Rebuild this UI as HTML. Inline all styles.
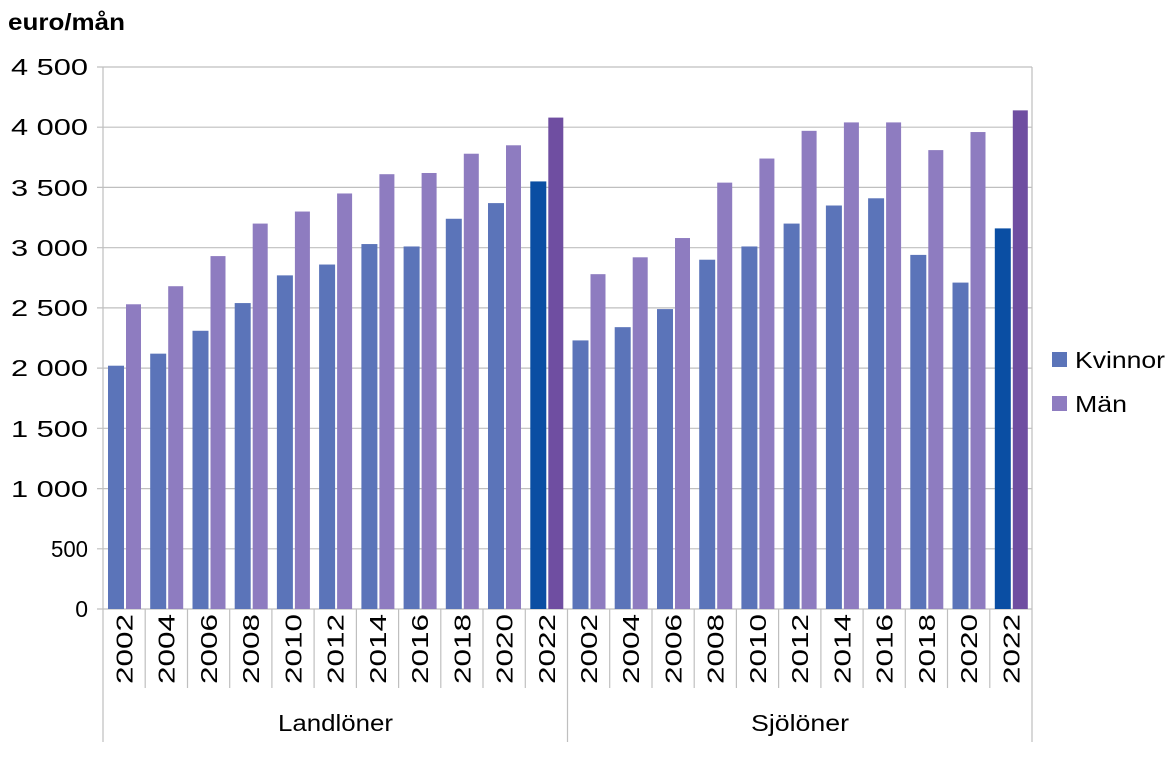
<!DOCTYPE html>
<html><head><meta charset="utf-8"><style>
body{margin:0;background:#fff;}
svg text{font-family:"Liberation Sans",sans-serif;fill:#000;}
</style></head><body>
<svg width="1172" height="766" viewBox="0 0 1172 766" xmlns="http://www.w3.org/2000/svg">
<text x="8" y="30" font-size="23" font-weight="bold" textLength="117" lengthAdjust="spacingAndGlyphs">euro/mån</text>
<g stroke="#bfbfbf" stroke-width="1.2">
<line x1="97" y1="67" x2="1032" y2="67"/><line x1="97" y1="127.2" x2="1032" y2="127.2"/>
<line x1="97" y1="187.4" x2="1032" y2="187.4"/><line x1="97" y1="247.7" x2="1032" y2="247.7"/>
<line x1="97" y1="307.9" x2="1032" y2="307.9"/><line x1="97" y1="368.1" x2="1032" y2="368.1"/>
<line x1="97" y1="428.3" x2="1032" y2="428.3"/><line x1="97" y1="488.6" x2="1032" y2="488.6"/>
<line x1="97" y1="548.8" x2="1032" y2="548.8"/><line x1="97" y1="609" x2="1032" y2="609"/>
<line x1="103" y1="67" x2="103" y2="742"/><line x1="1032" y1="67" x2="1032" y2="742"/>
<line x1="567.5" y1="609" x2="567.5" y2="742"/>
<line x1="145.2" y1="609" x2="145.2" y2="688"/><line x1="187.5" y1="609" x2="187.5" y2="688"/>
<line x1="229.7" y1="609" x2="229.7" y2="688"/><line x1="271.9" y1="609" x2="271.9" y2="688"/>
<line x1="314.1" y1="609" x2="314.1" y2="688"/><line x1="356.4" y1="609" x2="356.4" y2="688"/>
<line x1="398.6" y1="609" x2="398.6" y2="688"/><line x1="440.8" y1="609" x2="440.8" y2="688"/>
<line x1="483" y1="609" x2="483" y2="688"/><line x1="525.3" y1="609" x2="525.3" y2="688"/>
<line x1="609.7" y1="609" x2="609.7" y2="688"/><line x1="652" y1="609" x2="652" y2="688"/>
<line x1="694.2" y1="609" x2="694.2" y2="688"/><line x1="736.4" y1="609" x2="736.4" y2="688"/>
<line x1="778.6" y1="609" x2="778.6" y2="688"/><line x1="820.9" y1="609" x2="820.9" y2="688"/>
<line x1="863.1" y1="609" x2="863.1" y2="688"/><line x1="905.3" y1="609" x2="905.3" y2="688"/>
<line x1="947.5" y1="609" x2="947.5" y2="688"/><line x1="989.8" y1="609" x2="989.8" y2="688"/>
</g>
<g font-size="23" text-anchor="end">
<text x="88" y="75" textLength="77" lengthAdjust="spacingAndGlyphs">4 500</text>
<text x="88" y="135" textLength="77" lengthAdjust="spacingAndGlyphs">4 000</text>
<text x="88" y="196" textLength="77" lengthAdjust="spacingAndGlyphs">3 500</text>
<text x="88" y="256" textLength="77" lengthAdjust="spacingAndGlyphs">3 000</text>
<text x="88" y="316" textLength="77" lengthAdjust="spacingAndGlyphs">2 500</text>
<text x="88" y="376" textLength="77" lengthAdjust="spacingAndGlyphs">2 000</text>
<text x="88" y="437" textLength="77" lengthAdjust="spacingAndGlyphs">1 500</text>
<text x="88" y="497" textLength="77" lengthAdjust="spacingAndGlyphs">1 000</text>
<text x="88" y="557" textLength="37" lengthAdjust="spacingAndGlyphs">500</text>
<text x="88" y="617">0</text>
</g>
<g transform="translate(0,609) scale(1,-0.120444)">
<g fill="#5b74b9">
<rect x="108" y="0" width="16" height="2020"/><rect x="150.2" y="0" width="16" height="2120"/>
<rect x="192.5" y="0" width="16" height="2310"/><rect x="234.7" y="0" width="16" height="2540"/>
<rect x="276.9" y="0" width="16" height="2770"/><rect x="319.1" y="0" width="16" height="2860"/>
<rect x="361.4" y="0" width="16" height="3030"/><rect x="403.6" y="0" width="16" height="3010"/>
<rect x="445.8" y="0" width="16" height="3240"/><rect x="488" y="0" width="16" height="3370"/>
<rect x="572.5" y="0" width="16" height="2230"/><rect x="614.7" y="0" width="16" height="2340"/>
<rect x="657" y="0" width="16" height="2490"/><rect x="699.2" y="0" width="16" height="2900"/>
<rect x="741.4" y="0" width="16" height="3010"/><rect x="783.6" y="0" width="16" height="3200"/>
<rect x="825.9" y="0" width="16" height="3350"/><rect x="868.1" y="0" width="16" height="3410"/>
<rect x="910.3" y="0" width="16" height="2940"/><rect x="952.5" y="0" width="16" height="2710"/>
</g>
<g fill="#8e7cc0">
<rect x="126" y="0" width="15" height="2530"/><rect x="168.2" y="0" width="15" height="2680"/>
<rect x="210.5" y="0" width="15" height="2930"/><rect x="252.7" y="0" width="15" height="3200"/>
<rect x="294.9" y="0" width="15" height="3300"/><rect x="337.1" y="0" width="15" height="3450"/>
<rect x="379.4" y="0" width="15" height="3610"/><rect x="421.6" y="0" width="15" height="3620"/>
<rect x="463.8" y="0" width="15" height="3780"/><rect x="506" y="0" width="15" height="3850"/>
<rect x="590.5" y="0" width="15" height="2780"/><rect x="632.7" y="0" width="15" height="2920"/>
<rect x="675" y="0" width="15" height="3080"/><rect x="717.2" y="0" width="15" height="3540"/>
<rect x="759.4" y="0" width="15" height="3740"/><rect x="801.6" y="0" width="15" height="3970"/>
<rect x="843.9" y="0" width="15" height="4040"/><rect x="886.1" y="0" width="15" height="4040"/>
<rect x="928.3" y="0" width="15" height="3810"/><rect x="970.5" y="0" width="15" height="3960"/>
</g>
<rect x="530.3" y="0" width="16" height="3550" fill="#0a4ea3"/>
<rect x="548.3" y="0" width="15" height="4080" fill="#6f4ea1"/>
<rect x="994.8" y="0" width="16" height="3160" fill="#0a4ea3"/>
<rect x="1012.8" y="0" width="15" height="4140" fill="#6f4ea1"/>
</g>
<g font-size="23" text-anchor="middle">
<text transform="translate(132.5,649) rotate(-90)" textLength="70" lengthAdjust="spacingAndGlyphs">2002</text>
<text transform="translate(174.7,649) rotate(-90)" textLength="70" lengthAdjust="spacingAndGlyphs">2004</text>
<text transform="translate(217,649) rotate(-90)" textLength="70" lengthAdjust="spacingAndGlyphs">2006</text>
<text transform="translate(259.2,649) rotate(-90)" textLength="70" lengthAdjust="spacingAndGlyphs">2008</text>
<text transform="translate(301.4,649) rotate(-90)" textLength="70" lengthAdjust="spacingAndGlyphs">2010</text>
<text transform="translate(343.6,649) rotate(-90)" textLength="70" lengthAdjust="spacingAndGlyphs">2012</text>
<text transform="translate(385.9,649) rotate(-90)" textLength="70" lengthAdjust="spacingAndGlyphs">2014</text>
<text transform="translate(428.1,649) rotate(-90)" textLength="70" lengthAdjust="spacingAndGlyphs">2016</text>
<text transform="translate(470.3,649) rotate(-90)" textLength="70" lengthAdjust="spacingAndGlyphs">2018</text>
<text transform="translate(512.5,649) rotate(-90)" textLength="70" lengthAdjust="spacingAndGlyphs">2020</text>
<text transform="translate(554.8,649) rotate(-90)" textLength="70" lengthAdjust="spacingAndGlyphs">2022</text>
<text transform="translate(597,649) rotate(-90)" textLength="70" lengthAdjust="spacingAndGlyphs">2002</text>
<text transform="translate(639.2,649) rotate(-90)" textLength="70" lengthAdjust="spacingAndGlyphs">2004</text>
<text transform="translate(681.5,649) rotate(-90)" textLength="70" lengthAdjust="spacingAndGlyphs">2006</text>
<text transform="translate(723.7,649) rotate(-90)" textLength="70" lengthAdjust="spacingAndGlyphs">2008</text>
<text transform="translate(765.9,649) rotate(-90)" textLength="70" lengthAdjust="spacingAndGlyphs">2010</text>
<text transform="translate(808.1,649) rotate(-90)" textLength="70" lengthAdjust="spacingAndGlyphs">2012</text>
<text transform="translate(850.4,649) rotate(-90)" textLength="70" lengthAdjust="spacingAndGlyphs">2014</text>
<text transform="translate(892.6,649) rotate(-90)" textLength="70" lengthAdjust="spacingAndGlyphs">2016</text>
<text transform="translate(934.8,649) rotate(-90)" textLength="70" lengthAdjust="spacingAndGlyphs">2018</text>
<text transform="translate(977,649) rotate(-90)" textLength="70" lengthAdjust="spacingAndGlyphs">2020</text>
<text transform="translate(1019.3,649) rotate(-90)" textLength="70" lengthAdjust="spacingAndGlyphs">2022</text>
<text x="335.5" y="731" textLength="115" lengthAdjust="spacingAndGlyphs">Landlöner</text>
<text x="800" y="731" textLength="98" lengthAdjust="spacingAndGlyphs">Sjölöner</text>
</g>
<rect x="1052" y="352" width="15" height="15" fill="#5b74b9"/>
<rect x="1052" y="396" width="15" height="15" fill="#8e7cc0"/>
<text x="1075" y="368" font-size="23" textLength="90" lengthAdjust="spacingAndGlyphs">Kvinnor</text>
<text x="1075" y="412" font-size="23" textLength="52" lengthAdjust="spacingAndGlyphs">Män</text>
</svg>
</body></html>
